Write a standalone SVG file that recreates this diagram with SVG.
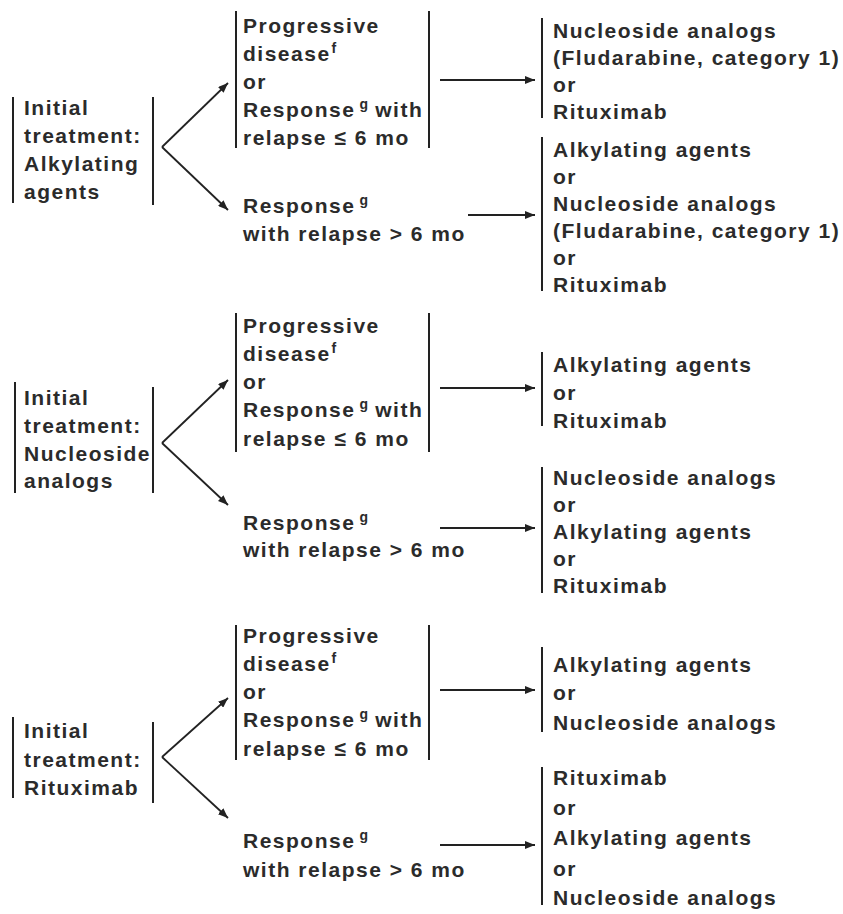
<svg xmlns="http://www.w3.org/2000/svg" width="843" height="914" viewBox="0 0 843 914">
<style>
text{font-family:"Liberation Sans",Arial,sans-serif;font-size:21px;font-weight:bold;letter-spacing:1.5px;fill:#2b2b2b}
.sup{font-size:14px;letter-spacing:0}
.br{stroke:#222;stroke-width:2;fill:none}
.cn{stroke:#222;stroke-width:1.8;fill:none;marker-end:url(#ah)}
</style>
<defs>
<marker id="ah" viewBox="0 0 10 8" refX="10" refY="4" markerWidth="10" markerHeight="8" markerUnits="userSpaceOnUse" orient="auto">
<path d="M0,0 L10,4 L0,8 Z" fill="#222"/>
</marker>
</defs>
<rect width="843" height="914" fill="#fff"/>

<!-- Block 1 -->
<g id="init-alk">
<line class="br" x1="13" y1="97" x2="13" y2="203"/>
<line class="br" x1="153" y1="97" x2="153" y2="205"/>
<text x="24" y="115">Initial</text>
<text x="24" y="143">treatment:</text>
<text x="24" y="171">Alkylating</text>
<text x="24" y="199">agents</text>
</g>
<g id="prog-alk">
<line class="br" x1="236" y1="11" x2="236" y2="148"/>
<line class="br" x1="429" y1="11" x2="429" y2="148"/>
<text x="243" y="33">Progressive</text>
<text x="243" y="61">disease<tspan class="sup" dx="1" dy="-8">f</tspan></text>
<text x="243" y="89">or</text>
<text x="243" y="117">Response<tspan class="sup" dx="4" dy="-8">g</tspan><tspan dy="8"> with</tspan></text>
<text x="243" y="145">relapse ≤ 6 mo</text>
</g>
<g id="resp-alk">
<text x="243" y="213">Response<tspan class="sup" dx="4" dy="-8">g</tspan></text>
<text x="243" y="241">with relapse &gt; 6 mo</text>
</g>
<g id="out-alk-1">
<line class="br" x1="542" y1="18" x2="542" y2="118"/>
<text x="553" y="38">Nucleoside analogs</text>
<text x="553" y="65">(Fludarabine, category 1)</text>
<text x="553" y="92">or</text>
<text x="553" y="119">Rituximab</text>
</g>
<g id="out-alk-2">
<line class="br" x1="542" y1="137" x2="542" y2="291"/>
<text x="553" y="157">Alkylating agents</text>
<text x="553" y="184">or</text>
<text x="553" y="211">Nucleoside analogs</text>
<text x="553" y="238">(Fludarabine, category 1)</text>
<text x="553" y="265">or</text>
<text x="553" y="292">Rituximab</text>
</g>

<!-- Block 2 -->
<g id="init-nuc">
<line class="br" x1="15" y1="382" x2="15" y2="493"/>
<line class="br" x1="153" y1="387" x2="153" y2="493"/>
<text x="24" y="405">Initial</text>
<text x="24" y="433">treatment:</text>
<text x="24" y="461">Nucleoside</text>
<text x="24" y="488">analogs</text>
</g>
<g id="prog-nuc">
<line class="br" x1="236" y1="313" x2="236" y2="452"/>
<line class="br" x1="429" y1="313" x2="429" y2="452"/>
<text x="243" y="333">Progressive</text>
<text x="243" y="361">disease<tspan class="sup" dx="1" dy="-8">f</tspan></text>
<text x="243" y="389">or</text>
<text x="243" y="417">Response<tspan class="sup" dx="4" dy="-8">g</tspan><tspan dy="8"> with</tspan></text>
<text x="243" y="446">relapse ≤ 6 mo</text>
</g>
<g id="resp-nuc">
<text x="243" y="530">Response<tspan class="sup" dx="4" dy="-8">g</tspan></text>
<text x="243" y="557">with relapse &gt; 6 mo</text>
</g>
<g id="out-nuc-1">
<line class="br" x1="542" y1="352" x2="542" y2="426"/>
<text x="553" y="372">Alkylating agents</text>
<text x="553" y="400">or</text>
<text x="553" y="428">Rituximab</text>
</g>
<g id="out-nuc-2">
<line class="br" x1="542" y1="467" x2="542" y2="593"/>
<text x="553" y="485">Nucleoside analogs</text>
<text x="553" y="512">or</text>
<text x="553" y="539">Alkylating agents</text>
<text x="553" y="566">or</text>
<text x="553" y="593">Rituximab</text>
</g>

<!-- Block 3 -->
<g id="init-rit">
<line class="br" x1="13" y1="717" x2="13" y2="798"/>
<line class="br" x1="153" y1="722" x2="153" y2="803"/>
<text x="24" y="738">Initial</text>
<text x="24" y="767">treatment:</text>
<text x="24" y="795">Rituximab</text>
</g>
<g id="prog-rit">
<line class="br" x1="236" y1="625" x2="236" y2="760"/>
<line class="br" x1="429" y1="625" x2="429" y2="760"/>
<text x="243" y="643">Progressive</text>
<text x="243" y="671">disease<tspan class="sup" dx="1" dy="-8">f</tspan></text>
<text x="243" y="699">or</text>
<text x="243" y="727">Response<tspan class="sup" dx="4" dy="-8">g</tspan><tspan dy="8"> with</tspan></text>
<text x="243" y="756">relapse ≤ 6 mo</text>
</g>
<g id="resp-rit">
<text x="243" y="848">Response<tspan class="sup" dx="4" dy="-8">g</tspan></text>
<text x="243" y="877">with relapse &gt; 6 mo</text>
</g>
<g id="out-rit-1">
<line class="br" x1="542" y1="647" x2="542" y2="732"/>
<text x="553" y="672">Alkylating agents</text>
<text x="553" y="700">or</text>
<text x="553" y="730">Nucleoside analogs</text>
</g>
<g id="out-rit-2">
<line class="br" x1="542" y1="767" x2="542" y2="905"/>
<text x="553" y="785">Rituximab</text>
<text x="553" y="815">or</text>
<text x="553" y="845">Alkylating agents</text>
<text x="553" y="876">or</text>
<text x="553" y="905">Nucleoside analogs</text>
</g>

<g id="connectors">
<path class="cn" d="M162,147 L228,83"/>
<path class="cn" d="M162,147 L228,210"/>
<path class="cn" d="M440,80 L535,80"/>
<path class="cn" d="M468,215 L535,215"/>
<path class="cn" d="M162,443 L228,380"/>
<path class="cn" d="M162,443 L228,505"/>
<path class="cn" d="M440,388 L535,388"/>
<path class="cn" d="M440,528 L535,528"/>
<path class="cn" d="M162,757 L228,698"/>
<path class="cn" d="M162,757 L228,818"/>
<path class="cn" d="M440,690 L535,690"/>
<path class="cn" d="M440,845 L535,845"/>
</g>
</svg>
